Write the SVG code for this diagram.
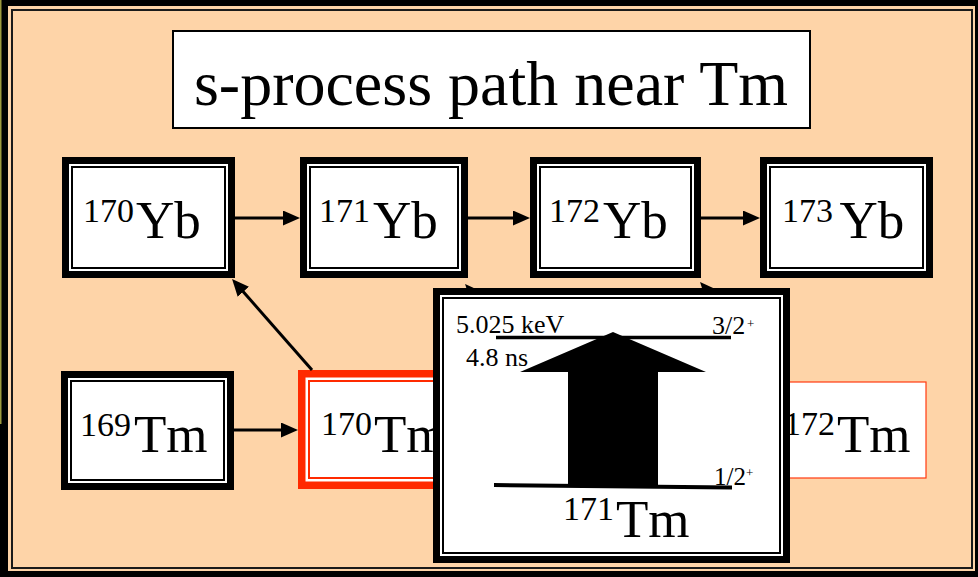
<svg xmlns="http://www.w3.org/2000/svg" width="978" height="577" viewBox="0 0 978 577">
  <defs>
    <style>
      text { font-family: "Liberation Serif", "Times New Roman", serif; fill: #000; }
      .big { font-size: 53px; }
      .sup { font-size: 34px; }
      .lvl { font-size: 26px; }
      .box-outer { fill: #fff; stroke: #000; stroke-width: 7; }
      .box-inner { fill: none; stroke: #000; stroke-width: 2; }
      .red-outer { fill: #fff; stroke: #ff2a00; stroke-width: 7.5; }
      .red-inner { fill: none; stroke: #ff2a00; stroke-width: 2; }
      .conn { stroke: #000; stroke-width: 3; fill: none; marker-end: url(#head); }
    </style>
    <marker id="head" viewBox="0 0 17 15" refX="5" refY="7.5" markerWidth="17" markerHeight="15" markerUnits="userSpaceOnUse" orient="auto">
      <path d="M0,0 L17,7.5 L0,15 Z" fill="#000"/>
    </marker>
  </defs>

  <!-- slide frame -->
  <rect x="0" y="0" width="978" height="577" fill="#000"/>
  <rect x="0" y="0" width="1.5" height="424" fill="#9e9a3c"/>
  <rect x="8" y="6" width="967" height="565" fill="#fed4a8"/>
  <rect x="12" y="10" width="960" height="558" fill="none" stroke="#1a1a1a" stroke-width="2"/>

  <!-- title -->
  <g id="title">
    <rect x="173" y="31" width="637" height="97" fill="#fff" stroke="#000" stroke-width="2"/>
    <text x="491" y="105" text-anchor="middle" font-size="64">s-process path near Tm</text>
  </g>

  <!-- node partly covered by the level scheme panel -->
  <g id="tm172">
    <rect x="753" y="382" width="173" height="96" fill="#fff" stroke="#ff3a10" stroke-width="1.2"/>
    <text><tspan class="sup" x="784" y="435">172</tspan><tspan class="big" x="837" y="452">Tm</tspan></text>
  </g>

  <g id="yb170">
    <rect class="box-outer" x="65.5" y="160.5" width="166" height="114"/>
    <rect class="box-inner" x="72" y="167" width="153" height="101"/>
    <text><tspan class="sup" x="83" y="222">170</tspan><tspan class="big" x="136" y="238">Yb</tspan></text>
  </g>

  <g id="yb171">
    <rect class="box-outer" x="303.5" y="160.5" width="161" height="114"/>
    <rect class="box-inner" x="310" y="167" width="148" height="101"/>
    <text><tspan class="sup" x="319" y="222">171</tspan><tspan class="big" x="373" y="238">Yb</tspan></text>
  </g>

  <g id="yb172">
    <rect class="box-outer" x="533.5" y="160.5" width="164" height="114"/>
    <rect class="box-inner" x="540" y="167" width="151" height="101"/>
    <text><tspan class="sup" x="549" y="222">172</tspan><tspan class="big" x="603" y="238">Yb</tspan></text>
  </g>

  <g id="yb173">
    <rect class="box-outer" x="763.5" y="160.5" width="166" height="114"/>
    <rect class="box-inner" x="770" y="167" width="153" height="101"/>
    <text><tspan class="sup" x="782" y="222">173</tspan><tspan class="big" x="839.5" y="238">Yb</tspan></text>
  </g>

  <g id="tm169">
    <rect class="box-outer" x="64.5" y="374.5" width="166" height="112"/>
    <rect class="box-inner" x="71" y="381" width="153" height="99"/>
    <text><tspan class="sup" x="80" y="436">169</tspan><tspan class="big" x="134" y="452">Tm</tspan></text>
  </g>

  <g id="tm170">
    <rect class="red-outer" x="301.75" y="373.75" width="165.5" height="111.5"/>
    <rect class="red-inner" x="309" y="381" width="151" height="97"/>
    <text><tspan class="sup" x="321" y="435">170</tspan><tspan class="big" x="374" y="452">Tm</tspan></text>
  </g>

  <!-- connectors -->
  <g id="connectors">
    <line class="conn" x1="235" y1="218" x2="288" y2="218"/>
    <line class="conn" x1="468" y1="218" x2="518" y2="218"/>
    <line class="conn" x1="701" y1="218" x2="748" y2="218"/>
    <line class="conn" x1="234" y1="430" x2="286" y2="430"/>
    <line class="conn" x1="312" y1="370" x2="240" y2="288"/>
    <line class="conn" x1="545" y1="375" x2="473" y2="293"/>
    <line class="conn" x1="780" y1="373" x2="708" y2="291"/>
  </g>

  <!-- 171Tm level scheme panel -->
  <g id="tm171-levels">
    <rect class="box-outer" x="436.5" y="291.5" width="350" height="268"/>
    <rect class="box-inner" x="443" y="298" width="337" height="255"/>
    <line x1="496" y1="337.5" x2="731" y2="337.5" stroke="#000" stroke-width="3.5"/>
    <line x1="494" y1="485" x2="732" y2="487.5" stroke="#000" stroke-width="4"/>
    <polygon points="568,487 568,372 520,372 613,332 706,372 658,372 658,487" fill="#000"/>
    <text class="lvl" x="456" y="333">5.025 keV</text>
    <text class="lvl" x="466" y="366">4.8 ns</text>
    <text><tspan class="lvl" x="712" y="334">3/2</tspan><tspan font-size="13" x="747" y="328">+</tspan></text>
    <text><tspan font-size="25" x="714" y="485">1/2</tspan><tspan font-size="13" x="746" y="477">+</tspan></text>
    <text><tspan class="sup" x="563" y="520">171</tspan><tspan class="big" x="616" y="537">Tm</tspan></text>
  </g>
</svg>
